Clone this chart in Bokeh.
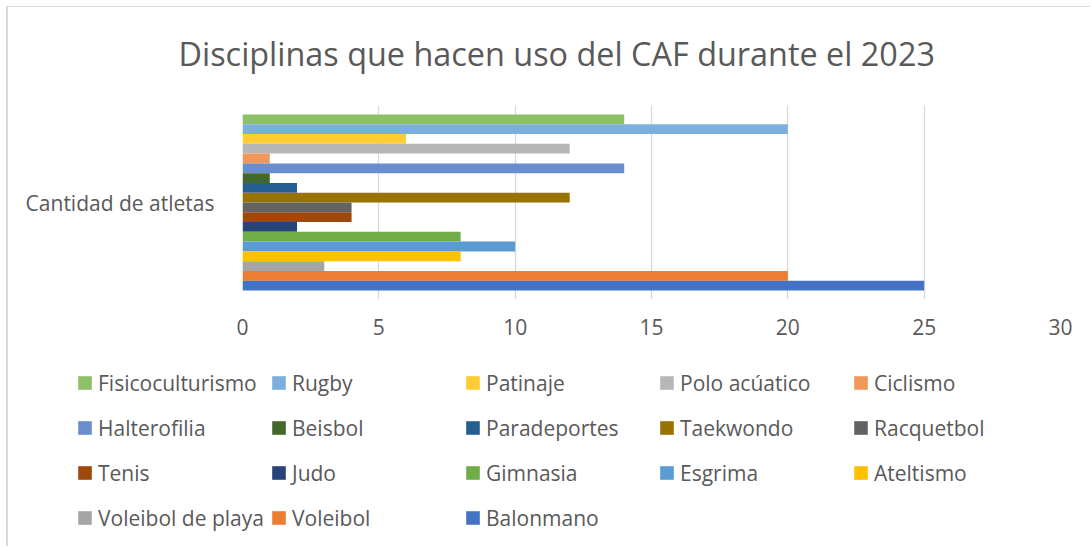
from bokeh.plotting import figure
from bokeh.models import FactorRange, Legend, LegendItem, Title, ColumnDataSource
from bokeh.layouts import column
from bokeh.transform import dodge
from bokeh.embed import file_html
from bokeh.resources import INLINE

categories = ["Cantidad de atletas"]
# series in legend order (top bar first)
series_names = ["Fisicoculturismo", "Rugby", "Patinaje", "Polo acúatico", "Ciclismo",
                "Halterofilia", "Beisbol", "Paradeportes", "Taekwondo", "Racquetbol",
                "Tenis", "Judo", "Gimnasia", "Esgrima", "Ateltismo",
                "Voleibol de playa", "Voleibol", "Balonmano"]
series_values = [14, 20, 6, 12, 1,
                 14, 1, 2, 12, 4,
                 4, 2, 8, 10, 8,
                 3, 20, 25]
series_colors = ["#8CC168", "#7CAFDD", "#FFCD33", "#B7B7B7", "#F1975A",
                 "#698ED0", "#43682B", "#255E91", "#997300", "#636363",
                 "#9E480E", "#264478", "#70AD47", "#5B9BD5", "#FFC000",
                 "#A5A5A5", "#ED7D31", "#4472C4"]
x_ticks = [0, 5, 10, 15, 20, 25, 30]

FONT = "Open Sans"
TXT = "#595959"

p = figure(width=1090, height=346, y_range=FactorRange(*categories), x_range=(0, 30),
           output_backend="svg", toolbar_location=None,
           min_border_left=242, min_border_right=30, min_border_top=105, min_border_bottom=47)
p.y_range.range_padding = 0
p.outline_line_color = None
p.border_fill_alpha = 0
p.background_fill_alpha = 0

n = len(series_names)
total = 0.907
h = total / n
sources = []
for i, (name, val, col) in enumerate(zip(series_names, series_values, series_colors)):
    j = n - 1 - i  # position from bottom
    off = -total / 2 + h * (j + 0.5)
    src = ColumnDataSource(dict(cat=categories, v=[val]))
    p.hbar(y=dodge("cat", off, range=p.y_range), right="v", left=0, height=h,
           source=src, fill_color=col, line_color=None)
    sources.append((name, col, src, off))

p.title = Title(text="Disciplinas que hacen uso del CAF durante el 2023", align="left",
                offset=-64, text_font=FONT, text_font_size="32.4px", text_color=TXT,
                text_font_style="normal", standoff=58, vertical_align="top")

p.xaxis.ticker = x_ticks
p.xaxis.axis_line_color = None
p.xaxis.major_tick_line_color = None
p.xaxis.major_tick_out = 0
p.xaxis.major_tick_in = 0
p.xaxis.minor_tick_line_color = None
p.xaxis.major_label_text_font = FONT
p.xaxis.major_label_text_font_size = "21px"
p.xaxis.major_label_text_color = TXT
p.xaxis.major_label_standoff = 19

p.yaxis.axis_line_color = None
p.yaxis.major_tick_line_color = None
p.yaxis.major_tick_out = 0
p.yaxis.major_tick_in = 0
p.yaxis.minor_tick_line_color = None
p.yaxis.major_label_text_font = FONT
p.yaxis.major_label_text_font_size = "21px"
p.yaxis.major_label_text_color = TXT
p.yaxis.major_label_standoff = 28

p.ygrid.grid_line_color = None
p.xgrid.grid_line_color = "#D9D9D9"
p.xgrid.grid_line_width = 1.3

# legend panel (same series, hidden renderers, only used for the legend)
lg = figure(width=1090, height=200, y_range=FactorRange(*categories), x_range=(0, 30),
            output_backend="svg", toolbar_location=None,
            min_border_left=0, min_border_right=0, min_border_top=0, min_border_bottom=0)
lg.frame_align = False
lg.axis.visible = False
lg.grid.visible = False
lg.outline_line_color = None
lg.border_fill_alpha = 0
lg.background_fill_alpha = 0
items = []
for name, col, src, off in sources:
    r = lg.hbar(y=dodge("cat", off, range=lg.y_range), right="v", left=0, height=h,
                source=src, fill_color=col, line_color=None, visible=False)
    items.append(LegendItem(label=name, renderers=[r]))
legend = Legend(items=items, location=(76, 6), orientation="horizontal", ncols=5,
                glyph_width=17, glyph_height=17, label_standoff=5, label_width=172,
                label_height=45, spacing=0, padding=0, margin=0,
                label_text_font=FONT, label_text_font_size="21px", label_text_color=TXT,
                background_fill_alpha=0, border_line_color=None,
                inactive_fill_alpha=0)
lg.add_layout(legend, "center")

bg = ("linear-gradient(#D9D9D9,#D9D9D9) 6px 6px / 2px 100% no-repeat, "
      "linear-gradient(#D9D9D9,#D9D9D9) 6px 6px / 100% 1px no-repeat")
layout = column(p, lg, spacing=0, styles={"background": bg})
open("out.html", "w").write(file_html(layout, INLINE))
